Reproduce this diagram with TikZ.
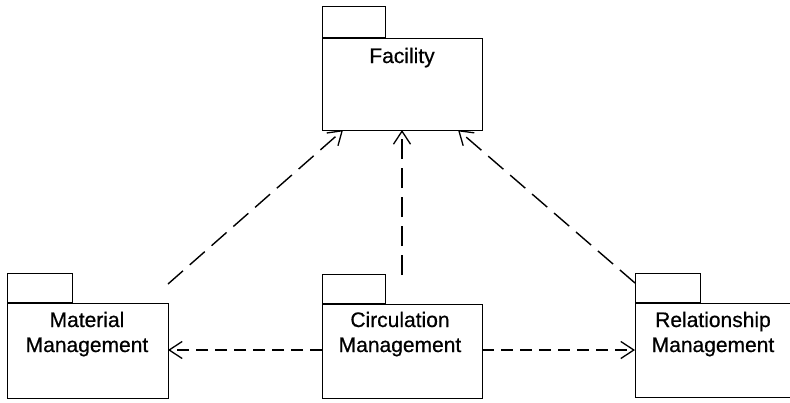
\documentclass[tikz,border=0pt]{standalone}
\usepackage{fontspec}
\setmainfont{Liberation Sans}
\newfontfamily\pkgfont[FakeBold=0.6]{Liberation Sans}
\usetikzlibrary{arrows.meta,calc}

\tikzset{
  pkgbody/.style={draw, line width=1.3pt, inner sep=0pt, anchor=north west},
  pkgtab/.style={draw, line width=1.3pt, inner sep=0pt, anchor=south west},
  pkgname/.style={inner sep=0pt, align=center, anchor=base,
    font=\pkgfont\fontsize{21}{25}\selectfont},
  dep/.style={line width=1.4pt, dash pattern=on 20pt off 9pt,
    -{Straight Barb[length=13pt, width=17pt, line width=1.3pt]}},
  depshort/.style={dep, dash pattern=on 12pt off 7pt}
}

\begin{document}
\begin{tikzpicture}[x=1pt, y=-1pt]
  \useasboundingbox (0,0) rectangle (790,402);
  \clip (0,0) rectangle (790,402);

  % Facility package
  \node[pkgbody, minimum width=160pt, minimum height=92pt] (fac) at (322,38) {};
  \node[pkgtab, minimum width=63pt, minimum height=31pt] (factab) at (fac.north west) {};
  \node[pkgname] (facname) at (402,63) {Facility};

  % Material Management package (base anchor = last line)
  \node[pkgbody, minimum width=161pt, minimum height=95pt] (mat) at (7,303) {};
  \node[pkgtab, minimum width=65pt, minimum height=29pt] (mattab) at (mat.north west) {};
  \node[pkgname] (matname) at (87,352) {Material\\Management};

  % Circulation Management package
  \node[pkgbody, minimum width=160pt, minimum height=94pt] (circ) at (322,304) {};
  \node[pkgtab, minimum width=63pt, minimum height=29pt] (circtab) at (circ.north west) {};
  \node[pkgname] (circname) at (400,352) {Circulation\\Management};

  % Relationship Management package
  \node[pkgbody, minimum width=157pt, minimum height=94pt] (rel) at (635,303) {};
  \node[pkgtab, minimum width=65pt, minimum height=29pt] (reltab) at (rel.north west) {};
  \node[pkgname] (relname) at (713,352) {Relationship\\Management};

  % connector end points
  \coordinate (matout) at (168,284);
  \coordinate (facinL) at (343,130);
  \coordinate (circout) at (402,275);
  \coordinate (facinM) at (402,130);
  \coordinate (relout) at (635,283);
  \coordinate (facinR) at (458,130);
  \coordinate (circL) at (322,350);
  \coordinate (circR) at (482,350);
  \coordinate (matin) at (168,350);
  \coordinate (relin) at (635,350);

  % dependencies
  \draw[dep] (matout) -- (facinL);
  \draw[dep] (circout) -- (facinM);
  \draw[dep] (relout) -- (facinR);
  \draw[depshort] (circL) -- (matin);
  \draw[depshort] (circR) -- (relin);
\end{tikzpicture}
\end{document}
